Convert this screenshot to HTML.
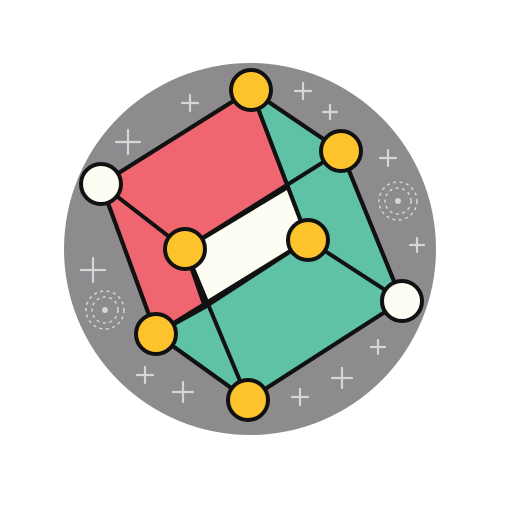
<!DOCTYPE html>
<html><head><meta charset="utf-8"><style>html,body{margin:0;padding:0;background:#fff}svg{display:block}</style></head>
<body>
<svg width="512" height="512" viewBox="0 0 512 512">
<circle cx="250" cy="249" r="186" fill="#8d8b8e"/>
<g stroke="#d6d5d7" stroke-width="2.2" stroke-linecap="round" id="plus"></g>
<g fill="none" stroke="#d6d5d7" stroke-width="1.5" stroke-dasharray="3 3.5">
<circle cx="398" cy="201" r="19"/><circle cx="398" cy="201" r="13"/>
<circle cx="105" cy="310" r="19"/><circle cx="105" cy="310" r="13"/>
</g>
<circle cx="398" cy="201" r="3" fill="#d6d5d7"/><circle cx="105" cy="310" r="3" fill="#d6d5d7"/>
<g stroke="#111" stroke-width="4" stroke-linejoin="round">
<polygon points="251,90 341,151 402,301 248,400 156,334" fill="#5fc2a6"/>
<polygon points="101,184 251,90 288,187 185,249 205,307 156,334" fill="#ef6671"/>
<polygon points="185,249 288,187 308,240 205,307" fill="#fdfdf4"/>
<g fill="none">
<line x1="101" y1="184" x2="251" y2="90"/><line x1="251" y1="90" x2="341" y2="151"/>
<line x1="341" y1="151" x2="402" y2="301"/><line x1="402" y1="301" x2="248" y2="400"/>
<line x1="248" y1="400" x2="156" y2="334"/><line x1="156" y1="334" x2="101" y2="184"/>
<line x1="101" y1="184" x2="185" y2="249"/><line x1="185" y1="249" x2="341" y2="151"/>
<line x1="251" y1="90" x2="308" y2="240"/><line x1="308" y1="240" x2="402" y2="301"/>
<line x1="156" y1="334" x2="308" y2="240"/><line x1="185" y1="249" x2="248" y2="400"/>
</g>
<g>
<circle cx="251" cy="90" r="20" fill="#fcc32d"/><circle cx="341" cy="151" r="20" fill="#fcc32d"/>
<circle cx="185" cy="249" r="20" fill="#fcc32d"/><circle cx="308" cy="240" r="20" fill="#fcc32d"/>
<circle cx="156" cy="334" r="20" fill="#fcc32d"/><circle cx="248" cy="400" r="20" fill="#fcc32d"/>
<circle cx="101" cy="184" r="20" fill="#fdfdf4"/><circle cx="402" cy="301" r="20" fill="#fdfdf4"/>
</g>
</g>
</svg>
<script>
const px=[190,303,330,128,388,417,93,378,342,300,145,183];
const py=[103,91,112,142,158,245,270,347,378,397,375,392];
const ps=[8,8,7,12,8,7,12,7,10,8,8,10];
const g=document.getElementById('plus');
for(let i=0;i<px.length;i++){
 const p=document.createElementNS('http://www.w3.org/2000/svg','path');
 p.setAttribute('d',`M${px[i]-ps[i]} ${py[i]}H${px[i]+ps[i]}M${px[i]} ${py[i]-ps[i]}V${py[i]+ps[i]}`);
 
 
 g.appendChild(p);
}
</script>
</body></html>
